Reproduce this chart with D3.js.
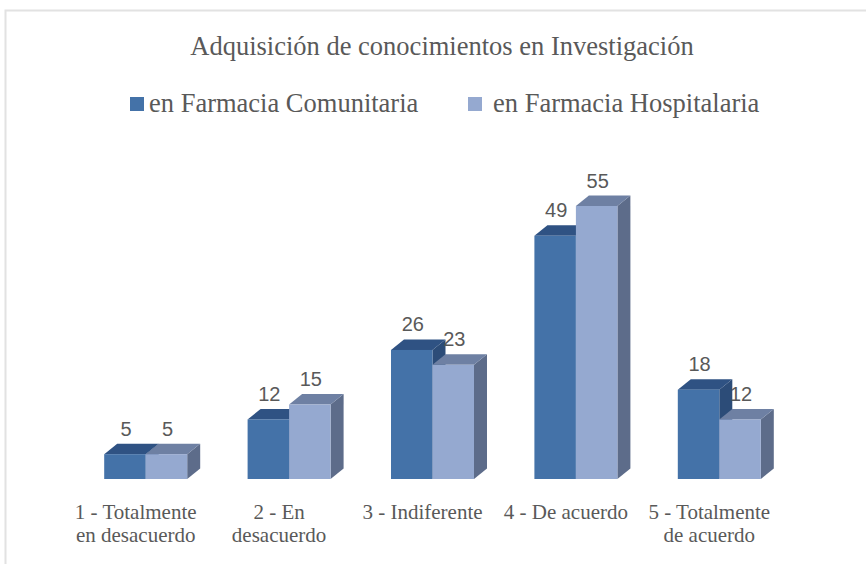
<!DOCTYPE html>
<html>
<head>
<meta charset="utf-8">
<script src="https://cdn.jsdelivr.net/npm/d3@7"></script>
<style>
  body { margin: 0; background: #fff; }
  svg text { fill: #595959; }
</style>
</head>
<body>
<div id="chart"></div>
<script>
// chart data
const title = "Adquisición de conocimientos en Investigación";
const categories = [
    ["1 - Totalmente", "en desacuerdo"],
    ["2 - En", "desacuerdo"],
    ["3 - Indiferente"],
    ["4 - De acuerdo"],
    ["5 - Totalmente", "de acuerdo"]
];
const seriesNames = ["en Farmacia Comunitaria", "en Farmacia Hospitalaria"];
const comunitaria = [5, 12, 26, 49, 18];
const hospitalaria = [5, 15, 23, 55, 12];

const width = 866, height = 564;
const serif = "'Liberation Serif', 'Times New Roman', serif";

// face colours per series: front, top, side
const palette = [
    {front: "#4472a8", top: "#2f5283", side: "#2c4c78"},
    {front: "#95a9d0", top: "#6e80a3", side: "#5d6c8a"}
];

const svg = d3.select("#chart").append("svg")
    .attr("width", width)
    .attr("height", height);

// chart area border
svg.append("rect")
    .attr("x", 5.5).attr("y", 10.5)
    .attr("width", width + 10).attr("height", height + 10)
    .attr("fill", "none")
    .attr("stroke", "#e2e2e2")
    .attr("stroke-width", 2);

// title
svg.append("text")
    .attr("x", 442).attr("y", 55)
    .attr("text-anchor", "middle")
    .style("font-family", serif)
    .style("font-size", "26.5px")
    .text(title);

// legend
const legendX = [130, 468];
seriesNames.forEach(function(name, i) {
    svg.append("rect")
        .attr("x", legendX[i]).attr("y", 97)
        .attr("width", 14).attr("height", 14)
        .attr("fill", palette[i].front);
    svg.append("text")
        .attr("x", legendX[i] + (i === 0 ? 19 : 25)).attr("y", 112)
        .style("font-family", serif)
        .style("font-size", "26.5px")
        .text(name);
});

// scales
const x0 = d3.scaleBand()
    .domain(d3.range(categories.length))
    .range([74, 791]);

const groupWidth = 83;
const x1 = d3.scaleBand()
    .domain([0, 1])
    .range([0, groupWidth]);

const y = d3.scaleLinear()
    .domain([0, 55])
    .range([479, 206]);

const dx = 13, dy = 10.5;

const rows = categories.map(function(c, i) {
    return [comunitaria[i], hospitalaria[i]];
});

const plot = svg.append("g");

rows.forEach(function(vals, ci) {
    const gx = x0(ci) + x0.bandwidth() / 2 - groupWidth / 2;
    vals.forEach(function(v, si) {
        const xl = gx + x1(si), xr = xl + x1.bandwidth();
        const yt = y(v), yb = y(0);
        const col = palette[si];
        // side face
        plot.append("path")
            .attr("d", d3.line()([[xr, yb], [xr + dx, yb - dy], [xr + dx, yt - dy], [xr, yt]]))
            .attr("fill", col.side);
        // top face
        plot.append("path")
            .attr("d", d3.line()([[xl, yt], [xl + dx, yt - dy], [xr + dx, yt - dy], [xr, yt]]))
            .attr("fill", col.top);
        // front face
        plot.append("rect")
            .attr("x", xl).attr("y", yt)
            .attr("width", xr - xl).attr("height", yb - yt)
            .attr("fill", col.front);
    });
});

// value labels on top
rows.forEach(function(vals, ci) {
    const gx = x0(ci) + x0.bandwidth() / 2 - groupWidth / 2;
    vals.forEach(function(v, si) {
        svg.append("text")
            .attr("x", gx + x1(si) + x1.bandwidth() / 2 + 1)
            .attr("y", y(v) - dy - 8)
            .attr("text-anchor", "middle")
            .style("font-family", "'Liberation Sans', Arial, sans-serif")
            .style("font-size", "20px")
            .text(v);
    });
});

// category labels
categories.forEach(function(lines, ci) {
    const t = svg.append("text")
        .attr("text-anchor", "middle")
        .style("font-family", serif)
        .style("font-size", "21px");
    lines.forEach(function(line, li) {
        t.append("tspan")
            .attr("x", x0(ci) + x0.bandwidth() / 2 - 10)
            .attr("y", 519 + li * 23)
            .text(line);
    });
});
</script>
</body>
</html>
